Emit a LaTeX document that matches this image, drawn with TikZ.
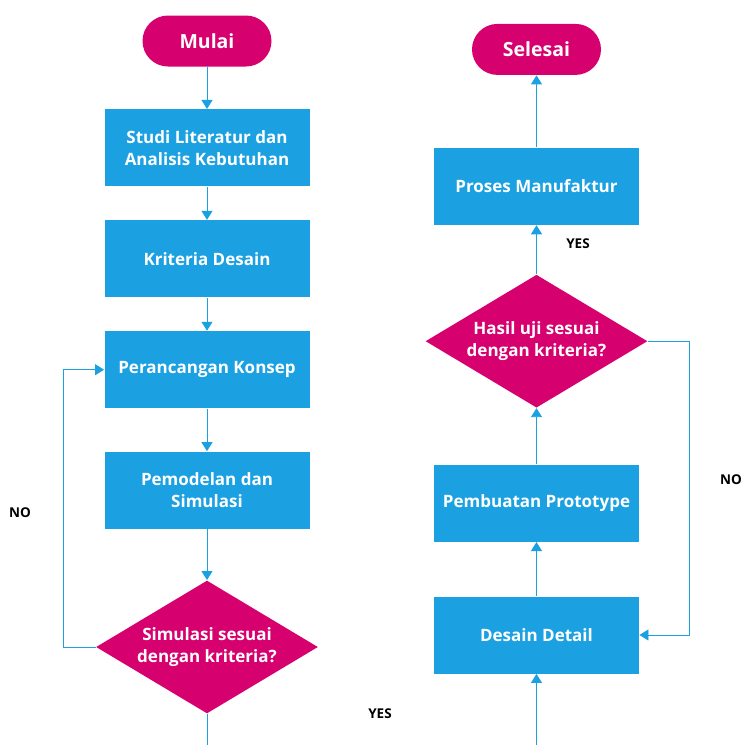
\documentclass[tikz,border=0pt]{standalone}
\usepackage{fontspec}
\setmainfont{Open Sans}
\usetikzlibrary{positioning, shapes.geometric, arrows.meta}
\definecolor{flowblue}{HTML}{1BA1E2}
\definecolor{flowpink}{HTML}{D6006F}

\begin{document}
\begin{tikzpicture}[x=1pt, y=1pt, >={Triangle[width=11pt,length=9pt]}, line width=0.9pt,
    process/.style={rectangle, fill=flowblue, text=white, font=\bfseries\fontsize{17}{22}\selectfont, minimum width=205pt, minimum height=77pt, align=center},
    terminal/.style={rectangle, rounded corners=25.5pt, fill=flowpink, text=white, font=\bfseries\fontsize{19.5}{22}\selectfont, minimum width=129pt, minimum height=51pt},
    decision/.style={diamond, fill=flowpink, aspect=1.67, inner sep=0pt, minimum width=222pt, minimum height=133pt},
    dtext/.style={text=white, font=\bfseries\fontsize{17}{22}\selectfont, align=center},
    answer/.style={text=black, font=\bfseries\fontsize{13.5}{16}\selectfont},
    flow/.style={color=flowblue, ->}]
  \useasboundingbox (0,0) rectangle (742,-745);

  % left column
  \node[terminal] (mulai)   at (207,-41)            {Mulai};
  \node[process]  (studi)   [below=42pt of mulai]   {Studi Literatur dan\\Analisis Kebutuhan};
  \node[process]  (kriteria)[below=33pt of studi]   {Kriteria Desain};
  \node[process]  (konsep)  [below=33pt of kriteria]{Perancangan Konsep};
  \node[process]  (model)   [below=42.5pt of konsep]{Pemodelan dan\\Simulasi};
  \node[decision, label={[dtext]center:Simulasi sesuai\\dengan kriteria?}] (sim) [below=51pt of model] {};

  % right column
  \node[process]  (detail)  at (536.5,-635)         {Desain Detail};
  \node[process]  (proto)   [above=54pt of detail]  {Pembuatan Prototype};
  \node[decision, label={[dtext]center:Hasil uji sesuai\\dengan kriteria?}] (uji) [above=56pt of proto] {};
  \node[process]  (manuf)   [above=49pt of uji]     {Proses Manufaktur};
  \node[terminal] (selesai) [above=72pt of manuf]   {Selesai};

  \coordinate (exitL)  at (sim.south |- 0,-745);
  \coordinate (entryR) at (detail.south |- 0,-745);

  \path[flow]
        (mulai)    edge (studi)
        (studi)    edge (kriteria)
        (kriteria) edge (konsep)
        (konsep)   edge (model)
        (model)    edge (sim)
        (entryR)   edge (detail)
        (detail)   edge (proto)
        (proto)    edge (uji)
        (uji)      edge (manuf)
        (manuf)    edge (selesai)
        ;
  \draw[flowblue] (sim.south) -- (exitL);

  % loops back
  \draw[flow] (sim.west) -- ++(-32,0) |- (konsep.west);
  \draw[flow] (uji.east) -- ++(41,0) |- (detail.east);

  \node[answer] (noleft)   at (20,-513)  {NO};
  \node[answer] (yesleft)  at (380,-714) {YES};
  \node[answer] (noright)  at (731,-480) {NO};
  \node[answer] (yesright) at (578,-244) {YES};
\end{tikzpicture}
\end{document}
